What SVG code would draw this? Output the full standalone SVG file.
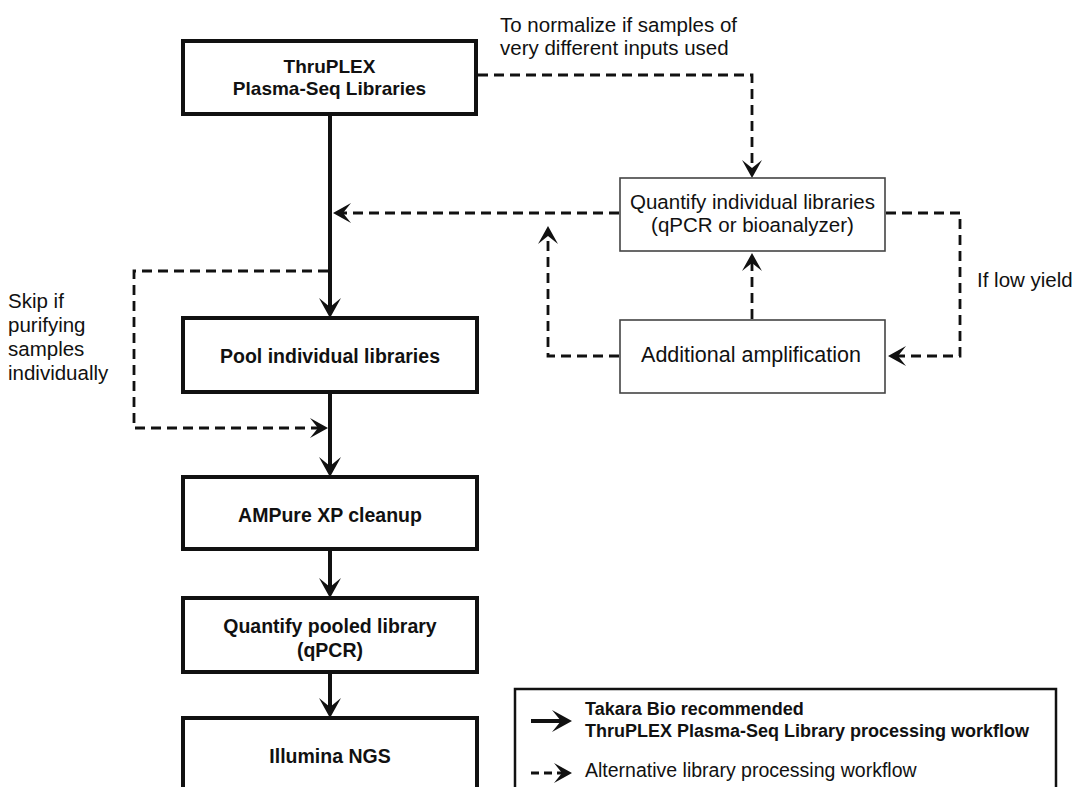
<svg xmlns="http://www.w3.org/2000/svg" width="1076" height="787" viewBox="0 0 1076 787">
<defs>
<style>
.thick{fill:#fff;stroke:#111;stroke-width:4}
.thin{fill:#fff;stroke:#444;stroke-width:1.6}
.solid{fill:none;stroke:#111;stroke-width:4}
.dash{fill:none;stroke:#111;stroke-width:2.8;stroke-dasharray:10 6}
.b{font-family:"Liberation Sans",Arial,sans-serif;font-weight:bold;font-size:19.5px;fill:#111;text-anchor:middle}
.r{font-family:"Liberation Sans",Arial,sans-serif;font-size:20.5px;fill:#111}
.c{text-anchor:middle}
.lb{font-family:"Liberation Sans",Arial,sans-serif;font-weight:bold;font-size:18px;fill:#111}
.lr{font-family:"Liberation Sans",Arial,sans-serif;font-size:19.5px;fill:#111}
</style>
<marker id="ah" markerUnits="userSpaceOnUse" viewBox="-12 -12 24 24" markerWidth="24" markerHeight="24" refX="0" refY="0" orient="auto">
<path d="M10,0 L-10,-11 L-1,0 L-10,11 Z" fill="#111"/>
</marker>
<marker id="ahd" markerUnits="userSpaceOnUse" viewBox="-12 -12 24 24" markerWidth="24" markerHeight="24" refX="0" refY="0" orient="auto">
<path d="M9,0 L-9,-10 L-1,0 L-9,10 Z" fill="#111"/>
</marker>
</defs>
<rect width="1076" height="787" fill="#fff"/>

<g id="connectors">
<line class="solid" x1="330" y1="116" x2="330" y2="308" marker-end="url(#ah)"/>
<line class="solid" x1="330" y1="394" x2="330" y2="467" marker-end="url(#ah)"/>
<line class="solid" x1="330" y1="551" x2="330" y2="588" marker-end="url(#ah)"/>
<line class="solid" x1="330" y1="674" x2="330" y2="708" marker-end="url(#ah)"/>
<polyline class="dash" points="478,75 752,75 752,169" marker-end="url(#ahd)"/>
<line class="dash" x1="619" y1="213" x2="342" y2="213" marker-end="url(#ahd)"/>
<polyline class="dash" points="886,213 960,213 960,356 897,356" marker-end="url(#ahd)"/>
<line class="dash" x1="752" y1="319" x2="752" y2="262" marker-end="url(#ahd)"/>
<polyline class="dash" points="619,356 548,356 548,235" marker-end="url(#ahd)"/>
<polyline class="dash" points="328,271 134,271 134,428 319,428" marker-end="url(#ahd)"/>
</g>

<g id="note-normalize">
<text class="r" x="500" y="32">To normalize if samples of</text>
<text class="r" x="500" y="55">very different inputs used</text>
</g>
<g id="note-skip">
<text class="r" x="8" y="308">Skip if</text>
<text class="r" x="8" y="332">purifying</text>
<text class="r" x="8" y="356">samples</text>
<text class="r" x="8" y="380">individually</text>
</g>
<g id="note-lowyield">
<text class="r" x="977" y="287">If low yield</text>
</g>

<g id="thruplex">
<rect class="thick" x="183" y="41" width="293" height="73"/>
<text class="b" x="329.5" y="73" style="font-size:19px">ThruPLEX</text>
<text class="b" x="329.5" y="95" style="font-size:19px">Plasma-Seq Libraries</text>
</g>
<g id="quantify-individual">
<rect class="thin" x="620" y="178" width="265" height="73"/>
<text class="r c" x="752.5" y="209">Quantify individual libraries</text>
<text class="r c" x="752.5" y="232">(qPCR or bioanalyzer)</text>
</g>
<g id="additional-amplification">
<rect class="thin" x="620" y="320" width="265" height="73"/>
<text class="r c" x="751" y="362" style="font-size:21.5px">Additional amplification</text>
</g>
<g id="pool">
<rect class="thick" x="183" y="318" width="294" height="74"/>
<text class="b" x="330" y="363">Pool individual libraries</text>
</g>
<g id="ampure">
<rect class="thick" x="183" y="477" width="294" height="72"/>
<text class="b" x="330" y="522">AMPure XP cleanup</text>
</g>
<g id="quantify-pooled">
<rect class="thick" x="183" y="598" width="294" height="74"/>
<text class="b" x="330" y="633">Quantify pooled library</text>
<text class="b" x="330" y="657">(qPCR)</text>
</g>
<g id="illumina">
<rect class="thick" x="183" y="718" width="294" height="100"/>
<text class="b" x="330" y="763">Illumina NGS</text>
</g>

<g id="legend">
<rect x="515" y="689" width="541" height="120" fill="#fff" stroke="#111" stroke-width="2.5"/>
<line class="solid" x1="531" y1="721" x2="562" y2="721" marker-end="url(#ah)"/>
<text class="lb" x="585" y="715">Takara Bio recommended</text>
<text class="lb" x="585" y="737">ThruPLEX Plasma-Seq Library processing workflow</text>
<line class="dash" x1="531" y1="773" x2="563" y2="773" style="stroke-dasharray:8 5;stroke-width:3" marker-end="url(#ahd)"/>
<text class="lr" x="585" y="777">Alternative library processing workflow</text>
</g>
</svg>
